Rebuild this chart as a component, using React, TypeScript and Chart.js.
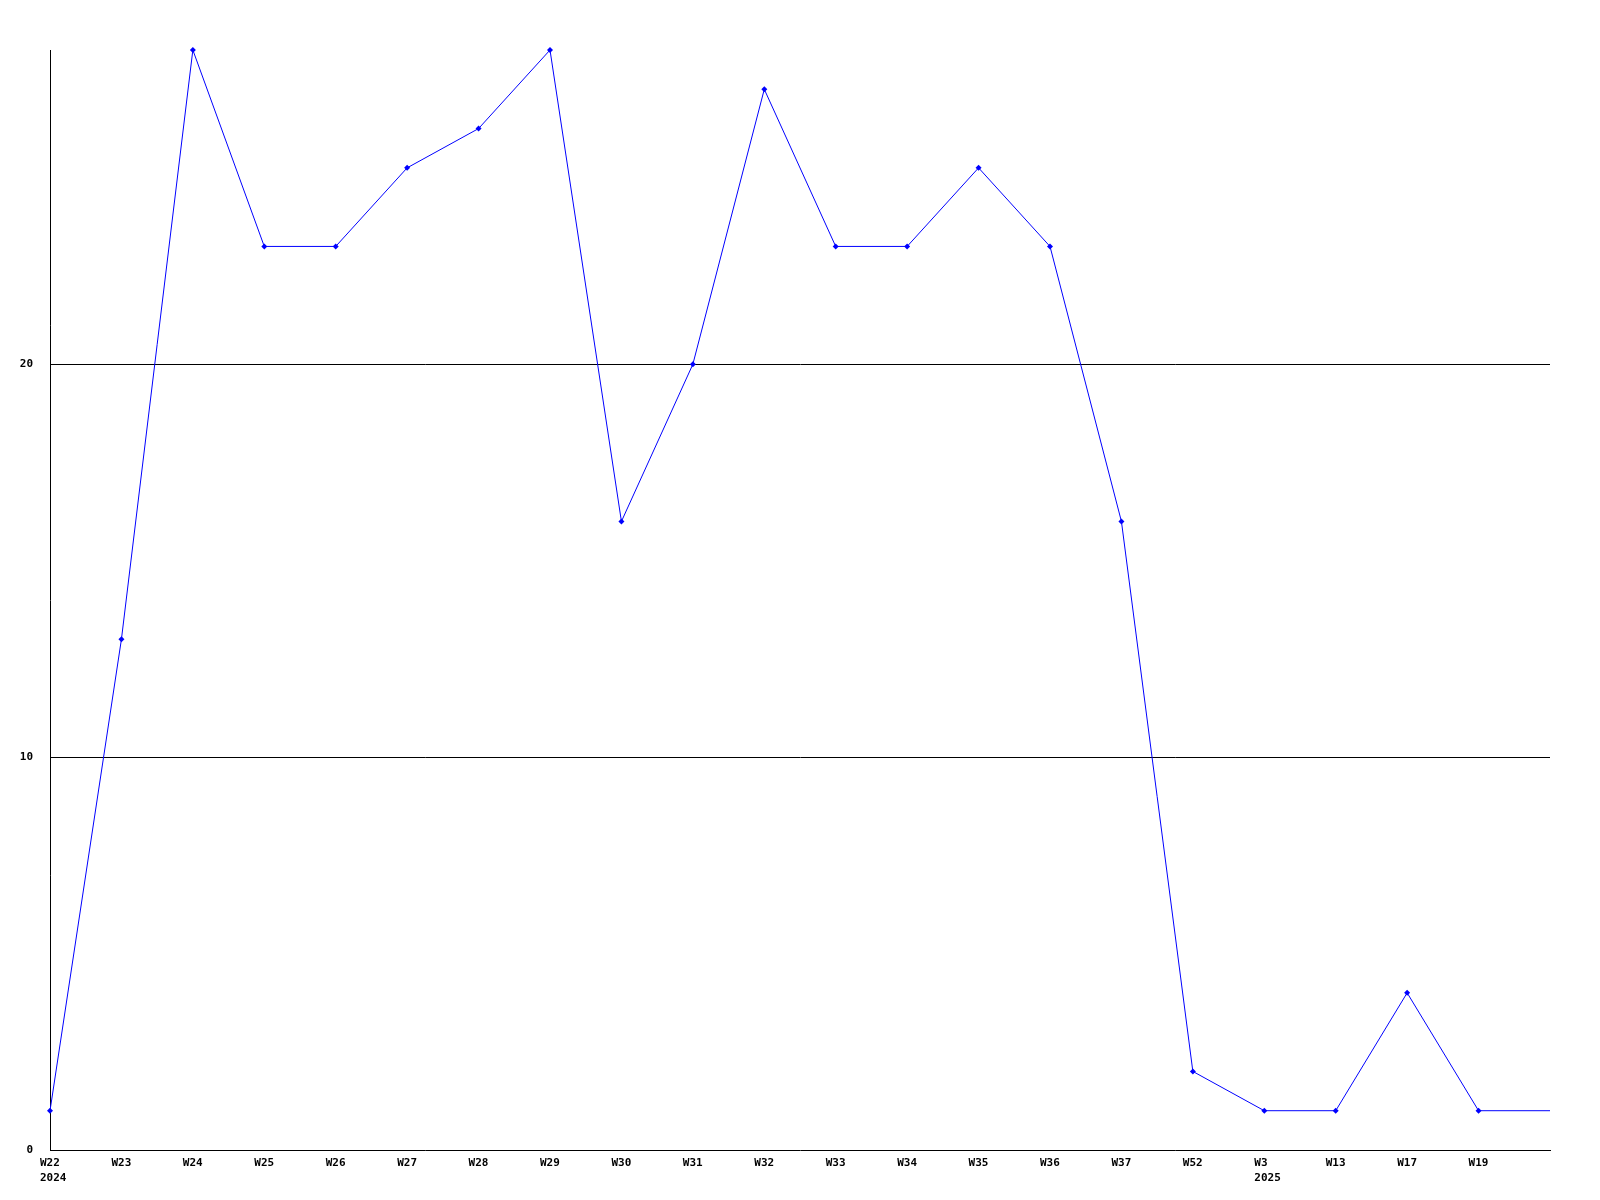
import React, { useEffect, useRef } from "react";
import { Chart, registerables } from "chart.js";

Chart.register(...registerables);

const weeks = ["W22", "W23", "W24", "W25", "W26", "W27", "W28", "W29", "W30", "W31", "W32", "W33", "W34", "W35", "W36", "W37", "W52", "W3", "W13", "W17", "W19", ""];
const years = ["2024", "", "", "", "", "", "", "", "", "", "", "", "", "", "", "", "", "2025", "", "", "", ""];
const counts = [1, 13, 28, 23, 23, 25, 26, 28, 16, 20, 27, 23, 23, 25, 23, 16, 2, 1, 1, 4, 1, 1];
const yTicks = [0, 10, 20];
const yMax = 28;

export default function App() {
  const ref = useRef<HTMLCanvasElement | null>(null);
  useEffect(() => {
    if (!ref.current) return;
    const labels = weeks.map((w, i) => (years[i] ? [w, years[i]] : w));
    const chart = new Chart(ref.current, {
      type: "line",
      data: {
        labels,
        datasets: [
          {
            data: counts,
            borderColor: "#0000ff",
            backgroundColor: "#0000ff",
            borderWidth: 1,
            tension: 0,
            clip: false,
            pointStyle: "rectRot",
            pointRadius: counts.map((_, i) => (i === counts.length - 1 ? 0 : 3)),
            pointBorderWidth: 0,
            pointBackgroundColor: "#0000ff",
          },
        ],
      },
      options: {
        responsive: false,
        animation: false,
        layout: { padding: { top: 50, right: 50, left: 0, bottom: 0 } },
        plugins: { legend: { display: false }, tooltip: { enabled: false } },
        scales: {
          x: {
            offset: false,
            afterFit: (s: any) => {
              s.height = 50;
            },
            grid: { display: false, drawTicks: false },
            border: { display: true, color: "#000", width: 1 },
            ticks: {
              autoSkip: false,
              maxRotation: 0,
              minRotation: 0,
              align: "start",
              labelOffset: -10,
              padding: 6,
              color: "#000",
              font: { family: "'DejaVu Sans Mono'", size: 11, weight: "bold", lineHeight: "15px" },
            },
          },
          y: {
            min: 0,
            max: yMax,
            afterFit: (s: any) => {
              s.width = 50;
            },
            afterBuildTicks: (s: any) => {
              s.ticks = yTicks.map((v) => ({ value: v }));
            },
            grid: {
              drawTicks: false,
              color: (ctx: any) => (ctx.tick && ctx.tick.value === 0 ? "rgba(0,0,0,0)" : "#000"),
              lineWidth: 1,
            },
            border: { display: true, color: "#000", width: 1 },
            ticks: {
              padding: 17,
              color: "#000",
              font: { family: "'DejaVu Sans Mono'", size: 11, weight: "bold" },
            },
          },
        },
      },
    });
    return () => chart.destroy();
  }, []);
  return (
    <div style={{ position: "absolute", left: 0, top: 0, width: 1600, height: 1200, background: "#fff" }}>
      <canvas ref={ref} width={1600} height={1200} style={{ width: 1600, height: 1200, display: "block" }} />
    </div>
  );
}
